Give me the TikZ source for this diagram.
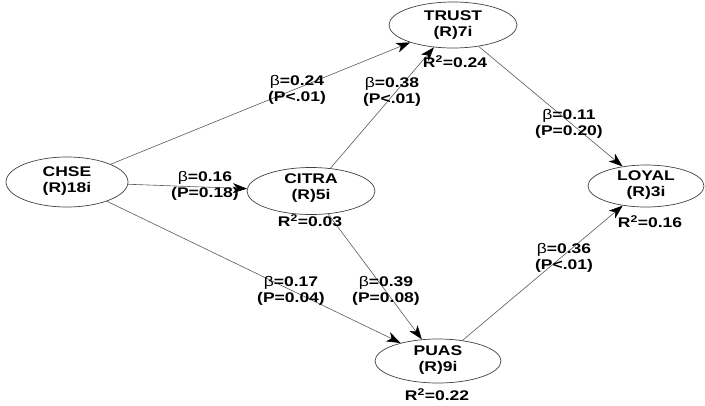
\documentclass[tikz,border=0pt]{standalone}
\usepackage{fontspec}
\setmainfont{Liberation Sans}[FakeStretch=1.25]
\usetikzlibrary{arrows.meta,shapes.geometric}
\begin{document}
\begin{tikzpicture}[x=1pt,y=-1pt,
  construct/.style={draw=black!75,ellipse,line width=0.7pt,inner sep=0pt},
  lbl/.style={font=\fontsize{14}{16}\selectfont\bfseries,align=center,inner sep=0pt},
  path/.style={draw=black!65,line width=0.6pt,-{Stealth[length=14pt,width=10pt,inset=4pt,black]}},
  ]
\useasboundingbox (0,0) rectangle (705,405);
\node[construct,minimum width=122pt,minimum height=50pt] (chse) at (67,182) {};
\node[lbl] at (67,181) {CHSE\\(R)18i};
\node[construct,minimum width=128pt,minimum height=47pt] (citra) at (311,191) {};
\node[lbl] at (311,188) {CITRA\\(R)5i};
\node[construct,minimum width=128pt,minimum height=46pt] (trust) at (453,25) {};
\node[lbl] at (453,25) {TRUST\\(R)7i};
\node[construct,minimum width=116pt,minimum height=42pt] (loyal) at (646,186) {};
\node[lbl] at (646,185) {LOYAL\\(R)3i};
\node[construct,minimum width=126pt,minimum height=44pt] (puas) at (438,361) {};
\node[lbl] at (438,360) {PUAS\\(R)9i};

\draw[path] (chse) -- (trust);
\draw[path] (chse) -- (citra);
\draw[path] (chse) -- (puas);
\draw[path] (citra) -- (trust);
\draw[path] (citra) -- (puas);
\draw[path] (trust) -- (loyal);
\draw[path] (puas) -- (loyal);

\node[lbl] (r1) at (455,62) {R\textsuperscript{2}=0.24};
\node[lbl] (r2) at (310,221) {R\textsuperscript{2}=0.03};
\node[lbl] (r3) at (650,222) {R\textsuperscript{2}=0.16};
\node[lbl] (r4) at (437,395) {R\textsuperscript{2}=0.22};

\node[lbl] (b1) at (297,90) {{\mdseries β}=0.24\\(P<.01)};
\node[lbl] (b2) at (392,92) {{\mdseries β}=0.38\\(P<.01)};
\node[lbl] (b3) at (205,186) {{\mdseries β}=0.16\\(P=0.18)};
\node[lbl] (b4) at (569,124) {{\mdseries β}=0.11\\(P=0.20)};
\node[lbl] (b5) at (291,291) {{\mdseries β}=0.17\\(P=0.04)};
\node[lbl] (b6) at (386,291) {{\mdseries β}=0.39\\(P=0.08)};
\node[lbl] (b7) at (564,258) {{\mdseries β}=0.36\\(P<.01)};
\end{tikzpicture}
\end{document}
